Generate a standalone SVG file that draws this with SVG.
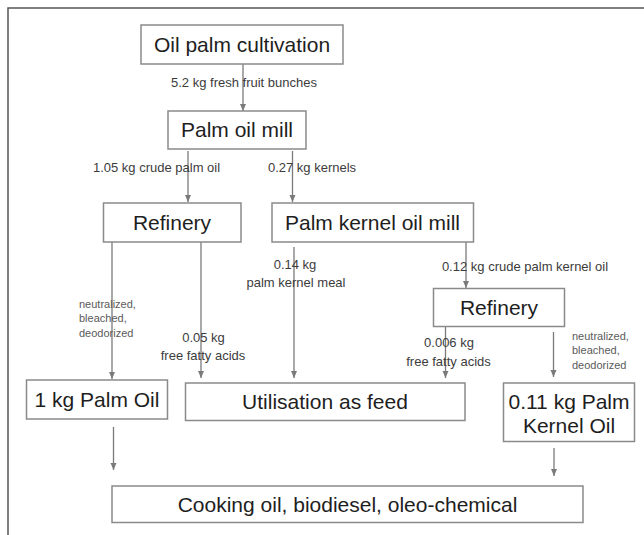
<svg xmlns="http://www.w3.org/2000/svg" width="644" height="535" viewBox="0 0 644 535">
<style>
.box{fill:#fff;stroke:#8a8a8a;stroke-width:1.5}
.bt{font-family:"Liberation Sans",Arial,sans-serif;font-size:21px;fill:#1e1e1e;text-anchor:middle}
.lb{font-family:"Liberation Sans",Arial,sans-serif;font-size:13px;fill:#3c3c3c;text-anchor:middle}
.sm{font-family:"Liberation Sans",Arial,sans-serif;font-size:11px;fill:#5a5a5a}
.cn{stroke:#7a7a7a;stroke-width:1.3;fill:none;marker-end:url(#ah)}
</style>
<defs>
<marker id="ah" markerUnits="userSpaceOnUse" markerWidth="8" markerHeight="8" refX="7" refY="4" orient="auto">
<path d="M0,1 L7,4 L0,7 Z" fill="#7a7a7a"/>
</marker>
</defs>
<rect width="644" height="535" fill="#fff"/>
<path d="M8,535 V8 H644" fill="none" stroke="#555" stroke-width="1.5"/>
<g id="connectors">
<line class="cn" x1="243" y1="64" x2="243" y2="111"/>
<line class="cn" x1="188" y1="151" x2="188" y2="202"/>
<line class="cn" x1="292.5" y1="151" x2="292.5" y2="202"/>
<line class="cn" x1="112" y1="242" x2="112" y2="379"/>
<line class="cn" x1="201" y1="242" x2="201" y2="378"/>
<line class="cn" x1="294" y1="247" x2="294" y2="378"/>
<line class="cn" x1="466" y1="242" x2="466" y2="288"/>
<line class="cn" x1="445.5" y1="327" x2="445.5" y2="378"/>
<line class="cn" x1="553.5" y1="332" x2="553.5" y2="377"/>
<line class="cn" x1="113.5" y1="427" x2="113.5" y2="470"/>
<line class="cn" x1="554" y1="448" x2="554" y2="476"/>
</g>
<g id="labels">
<text class="lb" x="244" y="87">5.2 kg fresh fruit bunches</text>
<text class="lb" x="156.5" y="172">1.05 kg crude palm oil</text>
<text class="lb" x="312" y="172">0.27 kg kernels</text>
<text class="lb" x="295" y="269">0.14 kg</text>
<text class="lb" x="296" y="287">palm kernel meal</text>
<text class="lb" x="525" y="271">0.12 kg crude palm kernel oil</text>
<text class="lb" x="203.5" y="342">0.05 kg</text>
<text class="lb" x="203" y="360">free fatty acids</text>
<text class="lb" x="449" y="347">0.006 kg</text>
<text class="lb" x="448.5" y="366">free fatty acids</text>
<text class="sm" x="79" y="308">neutralized,</text>
<text class="sm" x="79" y="322">bleached,</text>
<text class="sm" x="79" y="337">deodorized</text>
<text class="sm" x="572" y="340">neutralized,</text>
<text class="sm" x="572" y="354">bleached,</text>
<text class="sm" x="572" y="369">deodorized</text>
</g>
<g id="oil-palm-cultivation">
<rect class="box" x="141" y="25" width="202" height="39"/>
<text class="bt" x="242" y="52">Oil palm cultivation</text>
</g>
<g id="palm-oil-mill">
<rect class="box" x="168" y="111" width="138" height="38"/>
<text class="bt" x="237" y="137">Palm oil mill</text>
</g>
<g id="refinery-1">
<rect class="box" x="103.5" y="203" width="137.5" height="39"/>
<text class="bt" x="172" y="230">Refinery</text>
</g>
<g id="palm-kernel-oil-mill">
<rect class="box" x="272" y="203" width="201.5" height="39"/>
<text class="bt" x="372.5" y="230">Palm kernel oil mill</text>
</g>
<g id="refinery-2">
<rect class="box" x="433.5" y="288.5" width="131" height="38"/>
<text class="bt" x="499" y="315">Refinery</text>
</g>
<g id="palm-oil">
<rect class="box" x="26.5" y="380" width="141" height="39"/>
<text class="bt" x="97" y="407">1 kg Palm Oil</text>
</g>
<g id="utilisation-as-feed">
<rect class="box" x="185.5" y="383" width="279.5" height="37.5"/>
<text class="bt" x="325" y="409">Utilisation as feed</text>
</g>
<g id="palm-kernel-oil">
<rect class="box" x="503.5" y="383" width="131" height="58.5"/>
<text class="bt" x="569" y="409">0.11 kg Palm</text>
<text class="bt" x="569" y="433">Kernel Oil</text>
</g>
<g id="cooking-oil">
<rect class="box" x="112" y="486" width="471" height="36.5"/>
<text class="bt" x="347.5" y="512">Cooking oil, biodiesel, oleo-chemical</text>
</g>
</svg>
